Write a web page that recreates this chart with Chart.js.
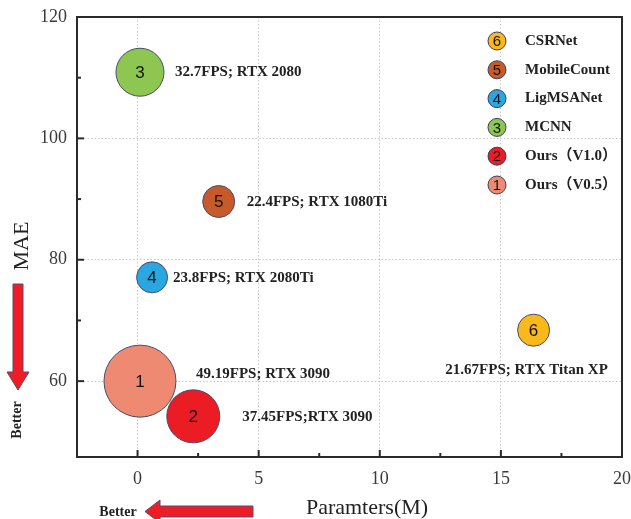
<!DOCTYPE html>
<html>
<head>
<meta charset="utf-8">
<script src="https://cdn.jsdelivr.net/npm/chart.js"></script>
<style>
    html, body { margin: 0; padding: 0; background: #fff; }
    #wrap { width: 631px; height: 519px; }
</style>
</head>
<body>
<div id="wrap"><canvas id="bubbleChart" width="631" height="519"></canvas></div>
<script>
(function (global) {

    const modelNames = ['Ours（V0.5）', 'Ours（V1.0）', 'MCNN', 'LigMSANet', 'MobileCount', 'CSRNet'];
    const modelIds = ['1', '2', '3', '4', '5', '6'];
    const paramsM = [0.1, 2.3, 0.1, 0.6, 3.35, 16.35];
    const maeValues = [60.0, 54.2, 110.9, 77.1, 89.6, 68.4];
    const bubbleRadius = [36, 26.5, 24, 15.5, 16, 16];
    const speedNotes = ['49.19FPS; RTX 3090', '37.45FPS;RTX 3090', '32.7FPS; RTX 2080',
        '23.8FPS; RTX 2080Ti', '22.4FPS; RTX 1080Ti', '21.67FPS; RTX Titan XP'];
    const xTickLabels = [0, 5, 10, 15, 20];
    const yTickLabels = [60, 80, 100, 120];

    const colors = ['#ef8a72', '#ec1c24', '#8dc752', '#28a7e1', '#c65a2a', '#fab81b'];
    // note position relative to the bubble centre, in px
    const noteOffsets = [[56, -7], [49, 1], [35, 0], [21, 1], [28, 1], [-7, 40]];
    const noteAlign = ['left', 'left', 'left', 'left', 'left', 'center'];

    const SERIF = '"Liberation Serif", "Times New Roman", "Noto Sans CJK SC", serif';
    const SANS = '"Liberation Sans", Arial, sans-serif';
    const INK = '#222';
    const ARROW_RED = '#ee1c25';

    function drawArrow(ctx, pts) {
        ctx.beginPath();
        ctx.moveTo(pts[0][0], pts[0][1]);
        for (let i = 1; i < pts.length; i++) {
            ctx.lineTo(pts[i][0], pts[i][1]);
        }
        ctx.closePath();
        ctx.fillStyle = ARROW_RED;
        ctx.fill();
        ctx.strokeStyle = '#5b4a6e';
        ctx.lineWidth = 1;
        ctx.stroke();
    }

    const decorPlugin = {
        id: 'decor',
        beforeDatasetsDraw(chart) {
            const ctx = chart.ctx;
            const xs = chart.scales.x;
            const ys = chart.scales.y;
            const area = chart.chartArea;
            ctx.save();
            ctx.strokeStyle = '#2a2a2a';
            ctx.lineWidth = 2;
            // inward tick marks
            xs.ticks.forEach((t) => {
                const px = xs.getPixelForValue(t.value);
                const len = xTickLabels.includes(t.value) ? 7 : 4;
                ctx.beginPath();
                ctx.moveTo(px, area.bottom);
                ctx.lineTo(px, area.bottom - len);
                ctx.stroke();
            });
            ys.ticks.forEach((t) => {
                const py = ys.getPixelForValue(t.value);
                const len = yTickLabels.includes(t.value) ? 7 : 4;
                ctx.beginPath();
                ctx.moveTo(area.left, py);
                ctx.lineTo(area.left + len, py);
                ctx.stroke();
            });
            ctx.strokeRect(area.left, area.top, area.right - area.left, area.bottom - area.top);
            ctx.restore();
        },
        afterDatasetsDraw(chart) {
            const ctx = chart.ctx;
            const meta = chart.getDatasetMeta(0);
            ctx.save();
            meta.data.forEach((pt, i) => {
                ctx.fillStyle = '#111';
                ctx.font = `17px ${SANS}`;
                ctx.textAlign = 'center';
                ctx.textBaseline = 'middle';
                ctx.fillText(modelIds[i], pt.x, pt.y + 1);

                ctx.fillStyle = INK;
                ctx.font = `bold 15px ${SERIF}`;
                ctx.textAlign = noteAlign[i];
                ctx.fillText(speedNotes[i], pt.x + noteOffsets[i][0], pt.y + noteOffsets[i][1]);
            });

            // legend, newest model at the bottom
            for (let k = 0; k < modelNames.length; k++) {
                const i = modelNames.length - 1 - k;
                const cy = 41 + k * 28.8;
                ctx.beginPath();
                ctx.arc(497, cy, 9, 0, Math.PI * 2);
                ctx.fillStyle = colors[i];
                ctx.fill();
                ctx.strokeStyle = '#3c3c5c';
                ctx.lineWidth = 1;
                ctx.stroke();
                ctx.fillStyle = '#111';
                ctx.font = `15px ${SANS}`;
                ctx.textAlign = 'center';
                ctx.fillText(modelIds[i], 497, cy + 1);
                ctx.fillStyle = INK;
                ctx.font = `bold 15px ${SERIF}`;
                ctx.textAlign = 'left';
                ctx.fillText(modelNames[i], 525, cy);
            }
            ctx.restore();
        },
        afterDraw(chart) {
            const ctx = chart.ctx;
            ctx.save();
            ctx.textAlign = 'center';
            ctx.textBaseline = 'middle';

            // "Better" arrows
            drawArrow(ctx, [[13, 284], [23, 284], [23, 372], [29, 372], [18, 390], [7, 372], [13, 372]]);
            drawArrow(ctx, [[253, 506], [160, 506], [160, 500], [145, 511.5], [160, 523], [160, 517], [253, 517]]);

            ctx.fillStyle = INK;
            // axis titles
            ctx.font = `22px ${SERIF}`;
            ctx.fillText('Paramters(M)', 367, 508);
            ctx.save();
            ctx.translate(22, 246);
            ctx.rotate(-Math.PI / 2);
            ctx.fillText('MAE', 0, 0);
            ctx.restore();

            ctx.font = `bold 14px ${SERIF}`;
            ctx.fillText('Better', 118, 512);
            ctx.save();
            ctx.translate(17, 420);
            ctx.rotate(-Math.PI / 2);
            ctx.fillText('Better', 0, 0);
            ctx.restore();
            ctx.restore();
        }
    };

    const points = paramsM.map((p, i) => ({ x: p, y: maeValues[i], r: bubbleRadius[i] }));

    new Chart(document.getElementById('bubbleChart'), {
        type: 'bubble',
        data: {
            datasets: [{
                label: 'models',
                data: points,
                backgroundColor: colors,
                borderColor: '#4a4a6a',
                borderWidth: 1
            }]
        },
        options: {
            responsive: false,
            animation: false,
            events: [],
            layout: { autoPadding: false, padding: { left: 0, right: 9, top: 17, bottom: 0 } },
            plugins: {
                legend: { display: false },
                tooltip: { enabled: false }
            },
            scales: {
                x: {
                    type: 'linear',
                    min: -2.5,
                    max: 20,
                    border: { display: false, dash: [1.5, 2] },
                    afterFit: (scale) => {
                        scale.height = 62;
                        scale.paddingLeft = 0;
                        scale.paddingRight = 0;
                    },
                    afterBuildTicks: (scale) => {
                        scale.ticks = scale.ticks.filter((t) => t.value > -2.5);
                    },
                    ticks: {
                        stepSize: 2.5,
                        autoSkip: false,
                        maxRotation: 0,
                        padding: 11,
                        color: '#3a3a3a',
                        font: { family: SERIF, size: 18 },
                        callback: (v) => (xTickLabels.includes(v) ? v : '')
                    },
                    grid: {
                        drawTicks: false,
                        lineWidth: 1,
                        color: (c) => (c.tick && xTickLabels.includes(c.tick.value) && c.tick.value !== 20
                            ? '#c8c8c8' : 'rgba(0,0,0,0)')
                    }
                },
                y: {
                    type: 'linear',
                    min: 47.5,
                    max: 120,
                    border: { display: false, dash: [1.5, 2] },
                    afterFit: (scale) => {
                        scale.width = 77;
                        scale.paddingTop = 0;
                        scale.paddingBottom = 0;
                    },
                    afterBuildTicks: (scale) => {
                        scale.ticks = scale.ticks.filter((t) => t.value % 10 === 0);
                    },
                    ticks: {
                        stepSize: 10,
                        autoSkip: false,
                        padding: 10,
                        color: '#3a3a3a',
                        font: { family: SERIF, size: 18 },
                        callback: (v) => (yTickLabels.includes(v) ? v : '')
                    },
                    grid: {
                        drawTicks: false,
                        lineWidth: 1,
                        color: (c) => (c.tick && yTickLabels.includes(c.tick.value) && c.tick.value !== 120
                            ? '#c8c8c8' : 'rgba(0,0,0,0)')
                    }
                }
            }
        },
        plugins: [decorPlugin]
    });

}(window));
</script>
</body>
</html>
